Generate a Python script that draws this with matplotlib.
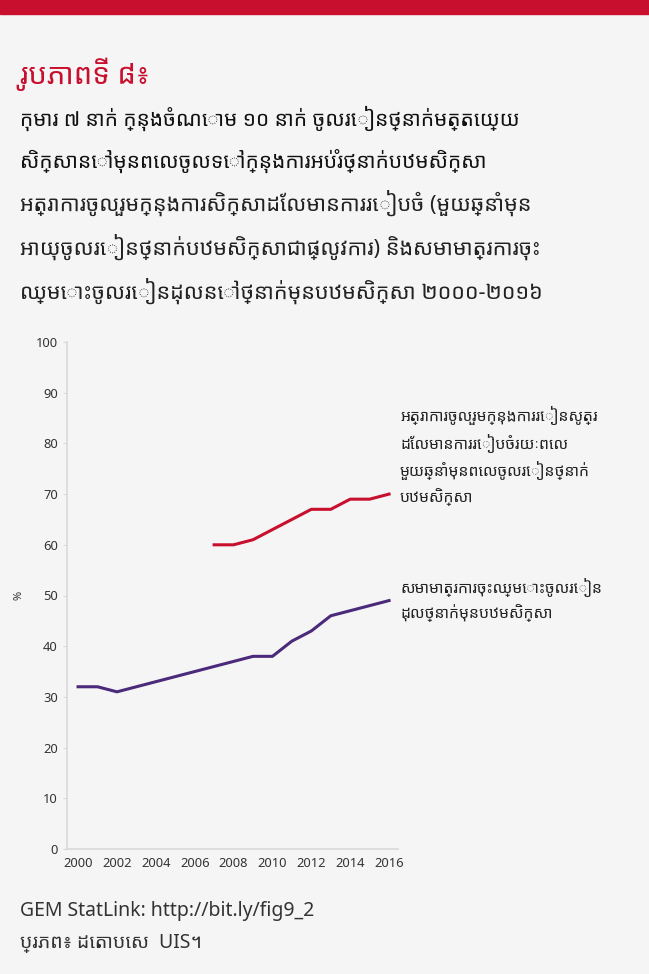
import matplotlib.pyplot as plt
import numpy as np

plt.rcParams['font.family'] = ['Noto Sans', 'Noto Sans Khmer', 'Hanuman', 'DejaVu Sans']

years_enrol = np.arange(2000, 2017)
enrol_ratio = [32, 32, 31, 32, 33, 34, 35, 36, 37, 38, 38, 41, 43, 46, 47, 48, 49]

years_part = np.arange(2007, 2017)
participation = [60, 60, 61, 63, 65, 67, 67, 69, 69, 70]

label_part = "អត្រាការចូលរួមក្នុងការរៀនសូត្រ\nដែលមានការរៀបចំរយៈពេល\nមួយឆ្នាំមុនពេលចូលរៀនថ្នាក់\nបឋមសិក្សា"
label_enrol = "សមាមាត្រការចុះឈ្មោះចូលរៀន\nដុលថ្នាក់មុនបឋមសិក្សា"

fig_title = "រូបភាពទី ៨៖"
subtitle = "កុមារ ៧ នាក់ ក្នុងចំណោម ១០ នាក់ ចូលរៀនថ្នាក់មត្តេយ្យ\nសិក្សានៅមុនពេលចូលទៅក្នុងការអប់រំថ្នាក់បឋមសិក្សា"
desc = ("អត្រាការចូលរួមក្នុងការសិក្សាដែលមានការរៀបចំ (មួយឆ្នាំមុន\n"
        "អាយុចូលរៀនថ្នាក់បឋមសិក្សាជាផ្លូវការ) និងសមាមាត្រការចុះ\n"
        "ឈ្មោះចូលរៀនដុលនៅថ្នាក់មុនបឋមសិក្សា ២០០០-២០១៦")
footer1 = "GEM StatLink: http://bit.ly/fig9_2"
footer2 = "ប្រភព៖ ដេតាបេស  UIS។"

red = '#c8102e'
purple = '#4b2a7b'
bg = '#f5f5f5'

fig = plt.figure(figsize=(6.49, 9.74), dpi=100, facecolor=bg)

# red band at the top
fig.patches.append(plt.Rectangle((0, 1 - 14 / 974), 1, 14 / 974, transform=fig.transFigure,
                                 color=red, zorder=0))

fig.text(20 / 649, 1 - 84 / 974, fig_title, color=red, fontsize=21, fontweight='bold', va='baseline')
fig.text(20 / 649, 1 - 139 / 974, subtitle, color='#111111', fontsize=15, va='center',
         linespacing=1.95, fontweight='medium')
fig.text(20 / 649, 1 - 247 / 974, desc, color='#222222', fontsize=15.5, va='center', linespacing=1.85)

ax = fig.add_axes([67 / 649, 125 / 974, 331 / 649, 507 / 974])
ax.set_facecolor(bg)
ax.plot(years_part, participation, color=red, lw=2.2)
ax.plot(years_enrol, enrol_ratio, color=purple, lw=2.2)

ax.set_xlim(1999.43, 2016.46)
ax.set_ylim(0, 100)
ax.set_xticks(np.arange(2000, 2017, 2))
ax.set_yticks(np.arange(0, 101, 10))
ax.tick_params(axis='both', labelsize=9.3, colors='#333333', length=3, width=0.6, color='#d0d0d0')
ax.tick_params(axis='x', length=0, pad=6)
for side in ['top', 'right']:
    ax.spines[side].set_visible(False)
for side in ['left', 'bottom']:
    ax.spines[side].set_color('#d9d9d9')
    ax.spines[side].set_linewidth(1.2)
ax.set_ylabel('%', fontsize=8, color='#333333', labelpad=8)

fig.text(400 / 649, 1 - 456 / 974, label_part, fontsize=11.3, color='#222222',
         va='center', ha='left', linespacing=1.55)
fig.text(400 / 649, 1 - 600 / 974, label_enrol, fontsize=11.3, color='#222222',
         va='center', ha='left', linespacing=1.55)

fig.text(20 / 649, 1 - 911 / 974, footer1, color='#333333', fontsize=14, va='center')
fig.text(20 / 649, 1 - 943 / 974, footer2, color='#333333', fontsize=14, va='center')

fig.savefig('out.png', dpi=100, facecolor=bg)
